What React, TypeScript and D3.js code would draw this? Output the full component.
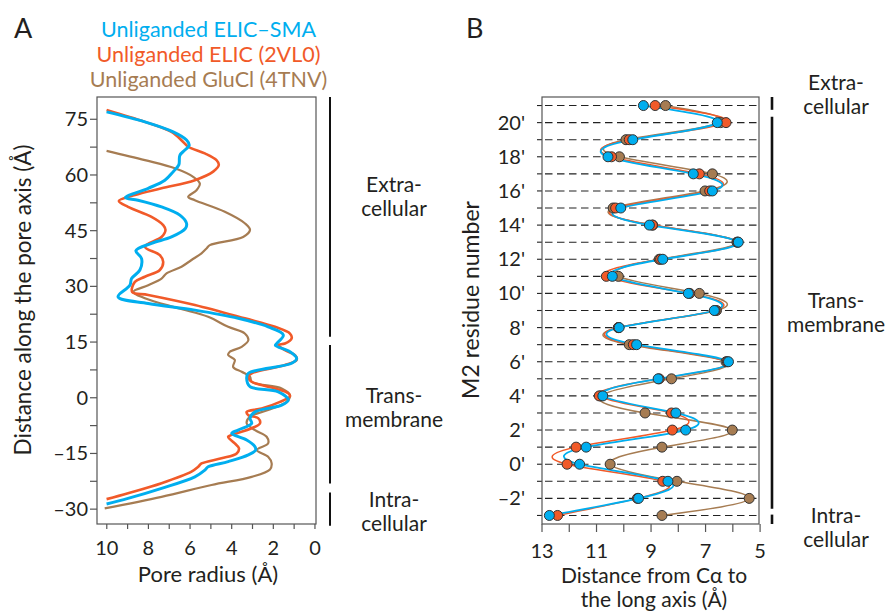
import React from 'react';
import * as d3 from 'd3';

// ---------- data ----------
const seriesNames = ['Unliganded ELIC–SMA', 'Unliganded ELIC (2VL0)', 'Unliganded GluCl (4TNV)'];
const seriesColors = ['#00AEEF', '#F15A29', '#A67C52'];

// Panel A: pore radius (Å) vs distance along pore axis (Å)
const smaProfile: [number, number][] = [
  [10.01, 77.0], [8.17, 74.3], [6.81, 71.6], [6.17, 69.4], [6.04, 68.0], [6.25, 66.7], [6.49, 65.3],
  [6.54, 62.7], [6.81, 60.9], [7.21, 58.6], [8.01, 56.4], [9.1, 53.9], [8.5, 53.2], [7.37, 51.4],
  [6.49, 49.2], [6.17, 47.0], [6.22, 45.6], [6.89, 43.3], [7.85, 41.6], [8.6, 39.6], [8.33, 37.5],
  [8.41, 34.4], [8.81, 32.1], [8.89, 30.3], [9.46, 27.2], [8.01, 25.4], [5.77, 23.6], [3.69, 21.4],
  [2.25, 19.1], [1.52, 16.9], [1.84, 14.6], [1.9, 14.1], [1.2, 12.4], [0.88, 10.6], [1.12, 9.3],
  [3.2, 6.6], [3.28, 5.2], [3.12, 3.0], [1.76, 1.6], [1.28, -0.6], [1.6, -2.0], [2.88, -3.8],
  [3.12, -5.5], [3.04, -6.9], [3.69, -8.7], [4.0, -9.6], [3.28, -11.4], [2.88, -13.2], [2.85, -14.1],
  [3.2, -15.4], [4.17, -17.2], [5.13, -18.6], [5.29, -19.5], [5.77, -21.3], [7.37, -24.4],
  [8.98, -27.1], [10.01, -28.6],
];
const elicProfile: [number, number][] = [
  [10.01, 77.5], [8.17, 74.3], [6.89, 71.6], [6.33, 68.9], [6.09, 67.6], [5.29, 65.8], [4.73, 64.0],
  [4.62, 62.7], [4.89, 60.9], [5.77, 58.6], [7.37, 56.4], [8.65, 54.6], [9.42, 53.0], [8.98, 51.4],
  [7.85, 48.7], [7.29, 46.5], [7.18, 45.2], [7.37, 43.3], [8.17, 40.7], [7.45, 38.4], [7.29, 36.6],
  [7.45, 34.4], [8.17, 32.6], [8.65, 31.2], [8.78, 28.5], [8.01, 27.7], [5.77, 25.0], [3.37, 21.4],
  [1.92, 19.1], [1.2, 17.3], [1.12, 16.0], [1.44, 14.6], [1.76, 14.2], [1.44, 12.8], [0.96, 11.5],
  [0.88, 10.2], [1.44, 8.8], [3.04, 6.6], [3.2, 5.7], [3.04, 4.3], [1.92, 2.5], [1.28, 1.2],
  [1.2, 0.4], [1.68, -1.1], [2.56, -2.9], [3.28, -3.8], [3.2, -4.7], [2.73, -5.5], [2.64, -6.9],
  [3.04, -8.2], [4.0, -10.0], [4.17, -10.5], [3.85, -12.3], [3.65, -13.6], [3.76, -15.0],
  [4.49, -16.3], [5.45, -17.7], [5.61, -18.6], [5.93, -19.9], [7.37, -23.0], [8.98, -25.7],
  [10.01, -27.3],
];
const gluclProfile: [number, number][] = [
  [10.01, 66.5], [8.17, 64.0], [6.73, 61.8], [5.85, 59.5], [5.53, 57.7], [5.69, 55.9], [6.09, 54.1],
  [5.77, 53.2], [4.33, 50.1], [3.37, 47.0], [3.12, 45.2], [3.45, 43.3], [5.05, 41.1], [5.21, 40.2],
  [5.45, 38.9], [5.93, 37.1], [6.41, 35.3], [7.13, 33.5], [7.37, 32.1], [8.01, 30.3], [8.73, 28.5],
  [8.17, 26.8], [6.57, 24.1], [5.13, 21.8], [4.17, 19.1], [3.37, 17.3], [3.2, 15.5], [3.52, 13.7],
  [4.09, 12.4], [4.17, 11.5], [3.85, 10.2], [3.93, 8.3], [3.52, 7.0], [3.12, 5.7], [3.04, 4.3],
  [1.6, 2.5], [1.2, 0.7], [1.36, -1.1], [2.25, -3.3], [3.12, -5.1], [3.28, -6.9], [2.88, -8.7],
  [2.32, -10.5], [2.25, -12.3], [2.8, -14.1], [2.25, -15.9], [2.08, -17.7], [2.16, -19.3],
  [3.04, -21.3], [4.97, -23.5], [7.37, -26.7], [10.1, -29.8],
];
const profiles = [smaProfile, elicProfile, gluclProfile];

// Panel B: distance from Cα to long axis (Å) per M2 residue
const residues = [21, 20, 19, 18, 17, 16, 15, 14, 13, 12, 11, 10, 9, 8, 7, 6, 5, 4, 3, 2, 1, 0, -1, -2, -3];
const smaDist = [9.28, 6.57, 9.67, 10.58, 7.45, 6.75, 10.11, 9.06, 5.8, 8.57, 10.42, 7.63, 6.68, 10.17, 9.53, 6.16, 8.74, 10.77, 8.09, 7.73, 11.38, 11.62, 8.38, 9.46, 12.73];
const elicDist = [8.85, 6.25, 9.8, 10.45, 7.23, 6.85, 10.3, 8.95, 5.82, 8.65, 10.64, 7.58, 6.65, 10.2, 9.65, 6.2, 8.7, 10.9, 8.25, 8.22, 11.75, 12.08, 8.57, 9.5, 12.43];
const gluclDist = [8.47, 6.45, 9.92, 10.16, 6.75, 7.02, 10.39, 8.94, 5.85, 8.7, 10.2, 7.23, 6.6, 10.2, 9.8, 6.25, 8.25, 10.85, 9.22, 6.02, 8.6, 10.5, 8.05, 5.4, 8.6];
const distances = [smaDist, elicDist, gluclDist];

// ticks
const zLabelTicks = [-30, -15, 0, 15, 30, 45, 60, 75];
const zAllTicks = [-30, -22.5, -15, -7.5, 0, 7.5, 15, 22.5, 30, 37.5, 45, 52.5, 60, 67.5, 75];
const radiusAllTicks = [0, 1, 2, 3, 4, 5, 6, 7, 8, 9, 10];
const radiusLabelTicks = [0, 2, 4, 6, 8, 10];
const distAllTicks = [5, 6, 7, 8, 9, 10, 11, 12, 13];
const distLabelTicks = [5, 7, 9, 11, 13];
const residueLabelTicks = [-2, 0, 2, 4, 6, 8, 10, 12, 14, 16, 18, 20];

// regions
const regionNames = [['Extra-', 'cellular'], ['Trans-', 'membrane'], ['Intra-', 'cellular']];
const regionsA: [number, number][] = [[81, 16.4], [14.2, -23.1], [-25.5, -34.5]];
const regionsB: [number, number][] = [[21.5, 20.75], [20.35, -2.6], [-2.95, -3.5]];

const fmtMinus = (v: number) => (v < 0 ? '–' + Math.abs(v) : String(v));

export default function App() {
  const font = "Lato, 'Open Sans', sans-serif";
  const ink = '#231f20';

  // scales
  const xA = d3.scaleLinear().domain([10.47, -0.05]).range([97, 316]);
  const yA = d3.scaleLinear().domain([-34, 81]).range([524, 97]);
  const xB = d3.scaleLinear().domain([13, 5.04]).range([542, 759]);
  const yB = d3.scaleLinear().domain([-3.5, 21.5]).range([524, 97]);

  const lineA = d3
    .line<[number, number]>()
    .x((d) => xA(d[0]))
    .y((d) => yA(d[1]))
    .curve(d3.curveCatmullRom.alpha(0.5));

  const lineB = (vals: number[]) =>
    d3
      .line<number>()
      .x((d) => xB(d))
      .y((_, i) => yB(residues[i]))
      .curve(d3.curveNatural)(vals) || '';

  const widthsA = [3, 2.6, 2.2];
  const widthsB = [1.8, 1.5, 1.5];
  const order = [2, 1, 0];

  const [ax0, ax1] = xA.range();
  const [ay0, ay1] = [yA(81), yA(-34)];
  const [bx0, bx1] = xB.range();
  const [by0, by1] = [yB(21.5), yB(-3.5)];

  const regionLabelA = [
    [192, 216],
    [403, 427],
    [507, 531],
  ];
  const regionLabelB = [
    [90, 114],
    [308, 332],
    [523, 547],
  ];

  return (
    <svg
      width={892}
      height={614}
      viewBox="0 0 892 614"
      style={{ position: 'absolute', left: 0, top: 0, background: '#fff' }}
      fontFamily={font}
    >
      <rect x={0} y={0} width={892} height={614} fill="#fff" />

      {/* Panel letters */}
      <text x={14} y={38} fontSize={27} fill={ink}>A</text>
      <text x={466} y={38} fontSize={27} fill={ink}>B</text>

      {/* Legend */}
      {seriesNames.map((n, i) => (
        <text key={n} x={208.5} y={37 + i * 25} textAnchor="middle" fontSize={21.5} fill={seriesColors[i]}>
          {n}
        </text>
      ))}

      {/* ---------- Panel A ---------- */}
      <g>
        {order.map((i) => (
          <path
            key={'pa' + i}
            d={lineA(profiles[i]) || ''}
            fill="none"
            stroke={seriesColors[i]}
            strokeWidth={widthsA[i]}
            strokeLinejoin="round"
          />
        ))}
        <rect x={ax0} y={ay0} width={ax1 - ax0} height={ay1 - ay0} fill="none" stroke="#555" strokeWidth={1.2} />
        {zAllTicks.map((t) => (
          <line key={'zt' + t} x1={ax0 - 7} x2={ax0} y1={yA(t)} y2={yA(t)} stroke="#555" strokeWidth={1.2} />
        ))}
        {zLabelTicks.map((t) => (
          <text key={'zl' + t} x={ax0 - 9} y={yA(t)} dy="0.35em" textAnchor="end" fontSize={20} fill={ink}>
            {fmtMinus(t)}
          </text>
        ))}
        {radiusAllTicks.map((t) => (
          <line key={'rt' + t} x1={xA(t)} x2={xA(t)} y1={ay1} y2={ay1 + 5} stroke="#555" strokeWidth={1.2} />
        ))}
        {radiusLabelTicks.map((t) => (
          <text key={'rl' + t} x={xA(t)} y={555} textAnchor="middle" fontSize={20} fill={ink}>
            {t}
          </text>
        ))}
        <text x={208} y={582} textAnchor="middle" fontSize={22} fill={ink}>
          Pore radius (Å)
        </text>
        <text transform="translate(31,300) rotate(-90)" textAnchor="middle" fontSize={22.5} fill={ink}>
          Distance along the pore axis (Å)
        </text>
        {regionsA.map((r, i) => (
          <line key={'ra' + i} x1={330} x2={330} y1={yA(r[0])} y2={yA(r[1])} stroke="#111" strokeWidth={2} />
        ))}
        {regionNames.map((lines, i) =>
          lines.map((s, j) => (
            <text key={'rna' + i + j} x={394} y={regionLabelA[i][j]} textAnchor="middle" fontSize={21} fill={ink}>
              {s}
            </text>
          ))
        )}
      </g>

      {/* ---------- Panel B ---------- */}
      <g>
        {residues.map((r) => (
          <g key={'res' + r}>
            <line x1={bx0 - 5} x2={bx0} y1={yB(r)} y2={yB(r)} stroke="#222" strokeWidth={1.1} />
            <line
              x1={bx0 + 3}
              x2={bx1}
              y1={yB(r)}
              y2={yB(r)}
              stroke="#222"
              strokeWidth={1.1}
              strokeDasharray="7.5,4.5"
            />
          </g>
        ))}
        {order.map((i) => (
          <path
            key={'pb' + i}
            d={lineB(distances[i])}
            fill="none"
            stroke={seriesColors[i]}
            strokeWidth={widthsB[i]}
          />
        ))}
        {order.map((i) =>
          distances[i].map((v, k) => (
            <circle
              key={'c' + i + '-' + k}
              cx={xB(v)}
              cy={yB(residues[k])}
              r={5}
              fill={seriesColors[i]}
              stroke="#333"
              strokeWidth={1}
            />
          ))
        )}
        <rect x={bx0} y={by0} width={bx1 - bx0} height={by1 - by0} fill="none" stroke="#555" strokeWidth={1.2} />
        {distAllTicks.map((t) => (
          <line key={'dt' + t} x1={xB(t)} x2={xB(t)} y1={by1} y2={by1 + 8} stroke="#555" strokeWidth={1.2} />
        ))}
        {distLabelTicks.map((t) => (
          <text key={'dl' + t} x={xB(t)} y={558} textAnchor="middle" fontSize={20} fill={ink}>
            {t}
          </text>
        ))}
        {residueLabelTicks.map((t) => (
          <text key={'yl' + t} x={bx0 - 17} y={yB(t)} dy="0.35em" textAnchor="end" fontSize={20} fill={ink}>
            {fmtMinus(t) + "'"}
          </text>
        ))}
        <text x={654} y={583} textAnchor="middle" fontSize={21} fill={ink}>
          Distance from Cα to
        </text>
        <text x={654} y={607} textAnchor="middle" fontSize={21} fill={ink}>
          the long axis (Å)
        </text>
        <text transform="translate(479,300) rotate(-90)" textAnchor="middle" fontSize={23} fill={ink}>
          M2 residue number
        </text>
        {regionsB.map((r, i) => (
          <line key={'rb' + i} x1={772} x2={772} y1={yB(r[0])} y2={yB(r[1])} stroke="#111" strokeWidth={2.6} />
        ))}
        {regionNames.map((lines, i) =>
          lines.map((s, j) => (
            <text key={'rnb' + i + j} x={836} y={regionLabelB[i][j]} textAnchor="middle" fontSize={21} fill={ink}>
              {s}
            </text>
          ))
        )}
      </g>
    </svg>
  );
}
